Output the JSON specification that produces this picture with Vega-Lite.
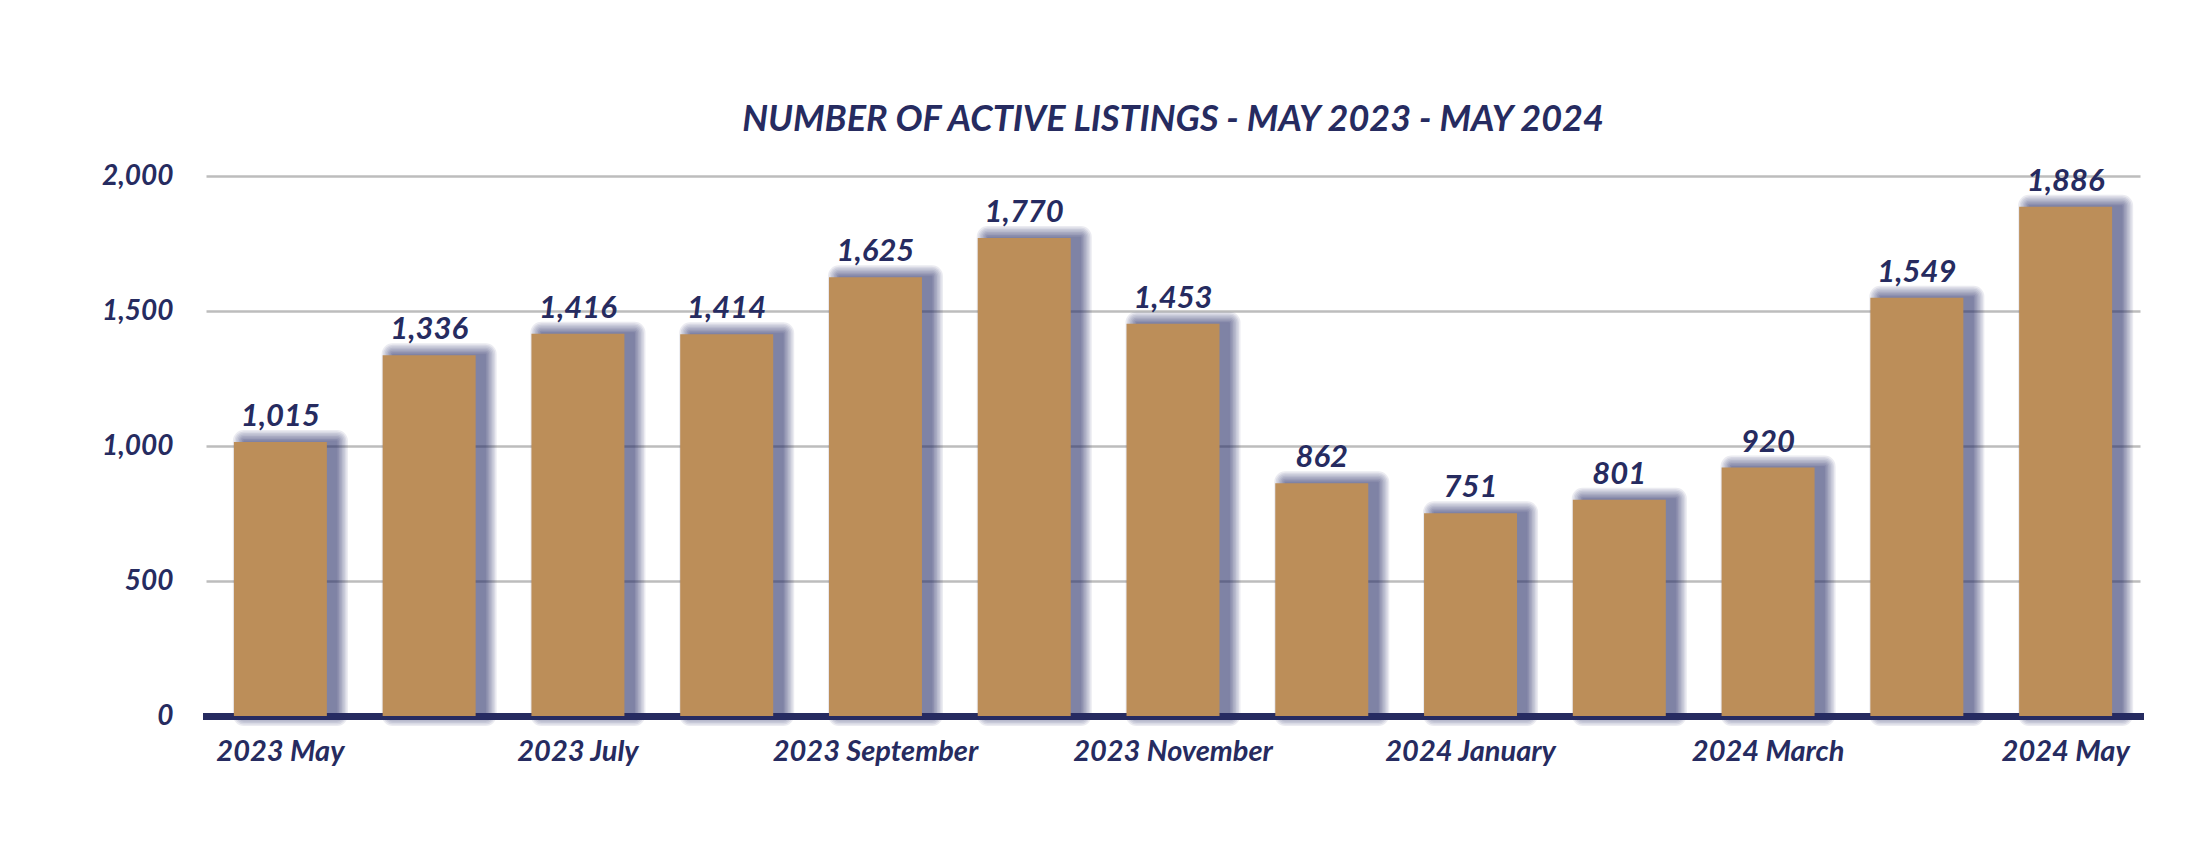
{
  "$schema": "https://vega.github.io/schema/vega-lite/v6.json",
  "width": 1934,
  "height": 540,
  "autosize": "none",
  "padding": {"left": 206, "top": 176, "right": 64, "bottom": 134},
  "background": "white",
  "config": {"view": {"stroke": null}},
  "title": {
    "text": "NUMBER OF ACTIVE LISTINGS - MAY 2023 - MAY 2024",
    "font": "Lato",
    "fontSize": 36,
    "fontWeight": "bold",
    "fontStyle": "italic",
    "color": "#262b60",
    "anchor": "middle",
    "baseline": "alphabetic",
    "offset": -5
  },
  "data": {
    "values": [
      {"month": "2023 May", "listings": 1015},
      {"month": "2023 June", "listings": 1336},
      {"month": "2023 July", "listings": 1416},
      {"month": "2023 August", "listings": 1414},
      {"month": "2023 September", "listings": 1625},
      {"month": "2023 October", "listings": 1770},
      {"month": "2023 November", "listings": 1453},
      {"month": "2023 December", "listings": 862},
      {"month": "2024 January", "listings": 751},
      {"month": "2024 February", "listings": 801},
      {"month": "2024 March", "listings": 920},
      {"month": "2024 April", "listings": 1549},
      {"month": "2024 May", "listings": 1886}
    ]
  },
  "encoding": {
    "x": {
      "field": "month",
      "type": "nominal",
      "sort": null,
      "scale": {"paddingInner": 0.375, "paddingOuter": 0.1875},
      "axis": {
        "title": null,
        "values": ["2023 May", "2023 July", "2023 September", "2023 November", "2024 January", "2024 March", "2024 May"],
        "labelAngle": 0,
        "labelFont": "Lato",
        "labelFontSize": 29,
        "labelFontWeight": "bold",
        "labelFontStyle": "italic",
        "labelColor": "#262b60",
        "labelPadding": 21,
        "labelBaseline": "top",
        "labelLimit": 0,
        "labelOverlap": false,
        "ticks": false,
        "tickSize": 0,
        "domain": true,
        "domainColor": "#262b60",
        "domainWidth": 7,
        "domainCap": "square",
        "grid": false,
        "zindex": 0
      }
    },
    "y": {
      "field": "listings",
      "type": "quantitative",
      "scale": {"domain": [0, 2000], "nice": false},
      "axis": {
        "title": null,
        "values": [0, 500, 1000, 1500, 2000],
        "format": ",.0f",
        "labelFont": "Lato",
        "labelFontSize": 28,
        "labelFontWeight": "bold",
        "labelFontStyle": "italic",
        "labelColor": "#262b60",
        "labelPadding": 33,
        "ticks": false,
        "tickSize": 0,
        "domain": false,
        "grid": true,
        "gridColor": "#bdbdbd",
        "gridWidth": 2.5,
        "zindex": 0
      }
    }
  },
  "layer": [
    {"mark": {"type": "bar", "color": "#2a2f6a", "opacity": 0.09, "xOffset": 10, "yOffset": -1, "stroke": "#2a2f6a", "strokeWidth": 22, "strokeJoin": "round"}},
    {"mark": {"type": "bar", "color": "#2a2f6a", "opacity": 0.09, "xOffset": 10, "yOffset": -1, "stroke": "#2a2f6a", "strokeWidth": 19, "strokeJoin": "round"}},
    {"mark": {"type": "bar", "color": "#2a2f6a", "opacity": 0.09, "xOffset": 10, "yOffset": -1, "stroke": "#2a2f6a", "strokeWidth": 16, "strokeJoin": "round"}},
    {"mark": {"type": "bar", "color": "#2a2f6a", "opacity": 0.09, "xOffset": 10, "yOffset": -1, "stroke": "#2a2f6a", "strokeWidth": 13, "strokeJoin": "round"}},
    {"mark": {"type": "bar", "color": "#2a2f6a", "opacity": 0.1, "xOffset": 10, "yOffset": -1, "stroke": "#2a2f6a", "strokeWidth": 10, "strokeJoin": "round"}},
    {"mark": {"type": "bar", "color": "#2a2f6a", "opacity": 0.1, "xOffset": 10, "yOffset": -1, "stroke": "#2a2f6a", "strokeWidth": 7, "strokeJoin": "round"}},
    {"mark": {"type": "bar", "color": "#2a2f6a", "opacity": 0.12, "xOffset": 10, "yOffset": -1, "stroke": "#2a2f6a", "strokeWidth": 4, "strokeJoin": "round"}},
    {"mark": {"type": "bar", "color": "#2a2f6a", "opacity": 0.12, "xOffset": 10, "yOffset": -1, "stroke": "#2a2f6a", "strokeWidth": 1, "strokeJoin": "round"}},
    {"mark": {"type": "bar", "color": "#bc8e59"}},
    {
      "mark": {
        "type": "text",
        "font": "Lato",
        "fontSize": 31,
        "fontWeight": "bold",
        "fontStyle": "italic",
        "color": "#262b60",
        "baseline": "alphabetic",
        "dy": -16
      },
      "encoding": {
        "text": {"field": "listings", "type": "quantitative", "format": ",.0f"}
      }
    }
  ]
}
